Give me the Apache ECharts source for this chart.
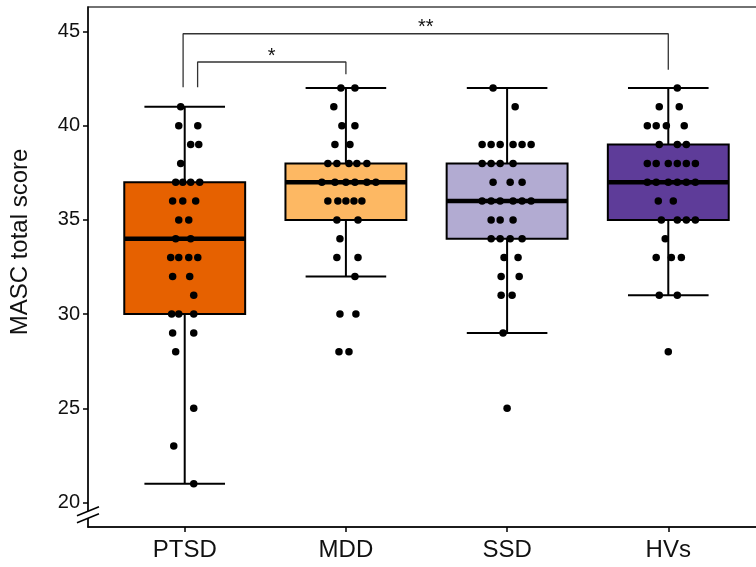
<!DOCTYPE html>
<html><head><meta charset="utf-8">
<script src="https://cdn.jsdelivr.net/npm/echarts@6/dist/echarts.min.js"></script>
<style>html,body{margin:0;padding:0;background:#fff}#c{width:756px;height:567px}</style>
</head><body><div id="c"></div>
<script>
const categories = ['PTSD', 'MDD', 'SSD', 'HVs'];
const boxColors = ['#E66100', '#FDB863', '#B2ABD2', '#5E3C99'];
// [lower whisker, Q1, median, Q3, upper whisker]
const boxStats = [
  [21, 30, 34, 37, 41],
  [32, 35, 37, 38, 42],
  [29, 34, 36, 38, 42],
  [31, 35, 37, 39, 42]
];
const yTicks = [20, 25, 30, 35, 40, 45];
// individual scores: [score, beeswarm offset in x-axis units]
const dotsPTSD = [
  [41,-0.025],[40,-0.037],[40,0.081],[39,0.037],[39,0.087],[38,-0.025],
  [37,-0.056],[37,-0.012],[37,0.037],[37,0.093],[36,-0.075],[36,-0.012],[36,0.068],
  [35,-0.037],[35,0.025],[34,-0.056],[34,0.037],
  [33,-0.087],[33,-0.037],[33,0.025],[33,0.081],[32,-0.075],[32,0.031],[31,0.056],
  [30,-0.081],[30,-0.037],[30,0.056],[29,-0.075],[29,0.056],[28,-0.056],
  [25,0.056],[23,-0.068],[21,0.056]
];
const dotsMDD = [
  [42,-0.031],[42,0.056],[41,-0.075],[40,-0.025],[40,0.056],[39,-0.068],[39,0.025],
  [38,-0.112],[38,-0.056],[38,0.019],[38,0.068],[38,0.130],
  [37,-0.149],[37,-0.068],[37,0],[37,0.056],[37,0.130],[37,0.186],
  [36,-0.112],[36,-0.05],[36,0],[36,0.05],[36,0.099],
  [35,-0.056],[35,0.075],[34,-0.037],[33,-0.056],[33,0.075],[32,0.056],
  [30,-0.037],[30,0.062],[28,-0.043],[28,0.019]
];
const dotsSSD = [
  [42,-0.087],[41,0.05],
  [39,-0.155],[39,-0.099],[39,-0.043],[39,0.037],[39,0.093],[39,0.149],
  [38,-0.155],[38,-0.099],[38,-0.043],[38,0.037],
  [37,-0.087],[37,0.019],[37,0.093],
  [36,-0.155],[36,-0.099],[36,-0.043],[36,0.037],[36,0.093],[36,0.149],
  [35,-0.099],[35,-0.043],[35,0.037],
  [34,-0.099],[34,-0.043],[34,0.019],[34,0.093],
  [33,-0.019],[33,0.068],[32,-0.037],[32,0.075],[31,-0.037],[31,0.031],
  [29,-0.025],[25,0]
];
const dotsHVs = [
  [42,0.056],[41,-0.056],[41,0.068],
  [40,-0.130],[40,-0.075],[40,-0.012],[40,0.099],
  [39,-0.056],[39,0.056],[39,0.112],
  [38,-0.130],[38,-0.075],[38,0],[38,0.056],[38,0.112],[38,0.168],
  [37,-0.130],[37,-0.075],[37,0],[37,0.056],[37,0.112],[37,0.168],
  [36,-0.062],[36,0.031],
  [35,-0.043],[35,0.056],[35,0.112],[35,0.168],
  [34,-0.019],[33,-0.075],[33,0.019],[33,0.081],[31,-0.056],[31,0.056],[28,0]
];
const groupDots = [dotsPTSD, dotsMDD, dotsSSD, dotsHVs];
// significance brackets: [x start, x end, bar height, left tip end, right tip end, label]
const brackets = [
  [0.99, 4.0, 44.88, 42.04, 42.97, '**'],
  [1.08, 2.0, 43.38, 42.04, 42.73, '*']
];

const chart = echarts.init(document.getElementById('c'), null, {renderer: 'canvas'});
const FONT = 'Liberation Sans, Arial, sans-serif';

const series = [];
series.push({
  type: 'custom',
  z: 2,
  animation: false,
  data: boxStats.map((s, i) => [i + 1].concat(s)),
  encode: {x: 0, y: [1, 2, 3, 4, 5]},
  renderItem(params, api) {
    const x = api.value(0);
    const lo = api.value(1), q1 = api.value(2), med = api.value(3), q3 = api.value(4), hi = api.value(5);
    const half = 0.375, cap = 0.25;
    const pLo = api.coord([x, lo]), pHi = api.coord([x, hi]);
    const tl = api.coord([x - half, q3]), br = api.coord([x + half, q1]);
    const mL = api.coord([x - half, med]), mR = api.coord([x + half, med]);
    const cLl = api.coord([x - cap, lo]), cLr = api.coord([x + cap, lo]);
    const cHl = api.coord([x - cap, hi]), cHr = api.coord([x + cap, hi]);
    const ls = {stroke: '#000', lineWidth: 2};
    return {type: 'group', children: [
      {type: 'line', shape: {x1: pLo[0], y1: pLo[1], x2: pHi[0], y2: pHi[1]}, style: ls},
      {type: 'line', shape: {x1: cLl[0], y1: cLl[1], x2: cLr[0], y2: cLr[1]}, style: ls},
      {type: 'line', shape: {x1: cHl[0], y1: cHl[1], x2: cHr[0], y2: cHr[1]}, style: ls},
      {type: 'rect', shape: {x: tl[0], y: tl[1], width: br[0] - tl[0], height: br[1] - tl[1]},
        style: {fill: boxColors[params.dataIndex], stroke: '#000', lineWidth: 2}},
      {type: 'line', shape: {x1: mL[0], y1: mL[1], x2: mR[0], y2: mR[1]}, style: {stroke: '#000', lineWidth: 4.5}}
    ]};
  }
});
groupDots.forEach((dots, i) => {
  series.push({
    type: 'scatter', z: 3, animation: false, silent: true,
    symbol: 'circle', symbolSize: 7.5,
    itemStyle: {color: '#000', opacity: 1},
    data: dots.map(d => [i + 1 + d[1], d[0]])
  });
});
brackets.forEach(b => {
  series.push({
    type: 'line', z: 3, animation: false, silent: true, symbol: 'none',
    lineStyle: {color: '#333', width: 1.3},
    data: [[b[0], b[3]], [b[0], b[2]], [b[1], b[2]], [b[1], b[4]]]
  });
});
series.push({
  type: 'custom', z: 4, animation: false, silent: true,
  data: brackets.map(b => [(b[0] + b[1]) / 2, b[2], b[5]]),
  encode: {x: 0, y: 1},
  renderItem(params, api) {
    const p = api.coord([api.value(0), api.value(1)]);
    return {type: 'text', x: p[0], y: p[1] + 4,
      style: {text: brackets[params.dataIndex][5], font: '20px ' + FONT, fill: '#111',
        textAlign: 'center', textVerticalAlign: 'bottom'}};
  }
});

chart.setOption({
  backgroundColor: '#fff',
  animation: false,
  grid: {left: 88, right: -9, top: 7, bottom: 40, outerBoundsMode: 'none', show: true,
    borderColor: '#444', borderWidth: 1.3, containLabel: false},
  xAxis: {
    type: 'value', min: 0.4, max: 4.6,
    splitLine: {show: false},
    axisLine: {show: true, onZero: false, lineStyle: {color: '#000', width: 1.5}},
    axisTick: {show: true, length: 5, customValues: [1, 2, 3, 4], lineStyle: {color: '#000', width: 1.5}},
    axisLabel: {customValues: [1, 2, 3, 4], formatter: v => categories[Math.round(v) - 1],
      fontSize: 24, color: '#111', fontFamily: FONT, margin: 11}
  },
  yAxis: {
    type: 'value', min: 18.7, max: 46.3,
    name: 'MASC total score', nameLocation: 'middle', nameGap: 56,
    nameTextStyle: {fontSize: 24, color: '#111', fontFamily: FONT, padding: [0, 0, 0, 50]},
    splitLine: {show: false},
    axisLine: {show: true, onZero: false, lineStyle: {color: '#000', width: 1.5}},
    axisTick: {show: true, length: 5, customValues: yTicks, lineStyle: {color: '#000', width: 1.5}},
    axisLabel: {customValues: yTicks, fontSize: 20, color: '#111', fontFamily: FONT, margin: 8}
  },
  series: series
});

// axis break marker on the y axis just below 20
const bp = chart.convertToPixel({gridIndex: 0}, [0.4, 19.35]);
const bx = bp[0], by = bp[1];
chart.setOption({
  graphic: [
    {type: 'polygon', z: 100, shape: {points: [[bx - 11, by + 1], [bx + 11, by - 8], [bx + 11, by - 1], [bx - 11, by + 8]]},
      style: {fill: '#fff'}},
    {type: 'line', z: 101, shape: {x1: bx - 11, y1: by + 1, x2: bx + 11, y2: by - 8}, style: {stroke: '#000', lineWidth: 1.5}},
    {type: 'line', z: 101, shape: {x1: bx - 11, y1: by + 8, x2: bx + 11, y2: by - 1}, style: {stroke: '#000', lineWidth: 1.5}}
  ]
});
</script></body></html>
